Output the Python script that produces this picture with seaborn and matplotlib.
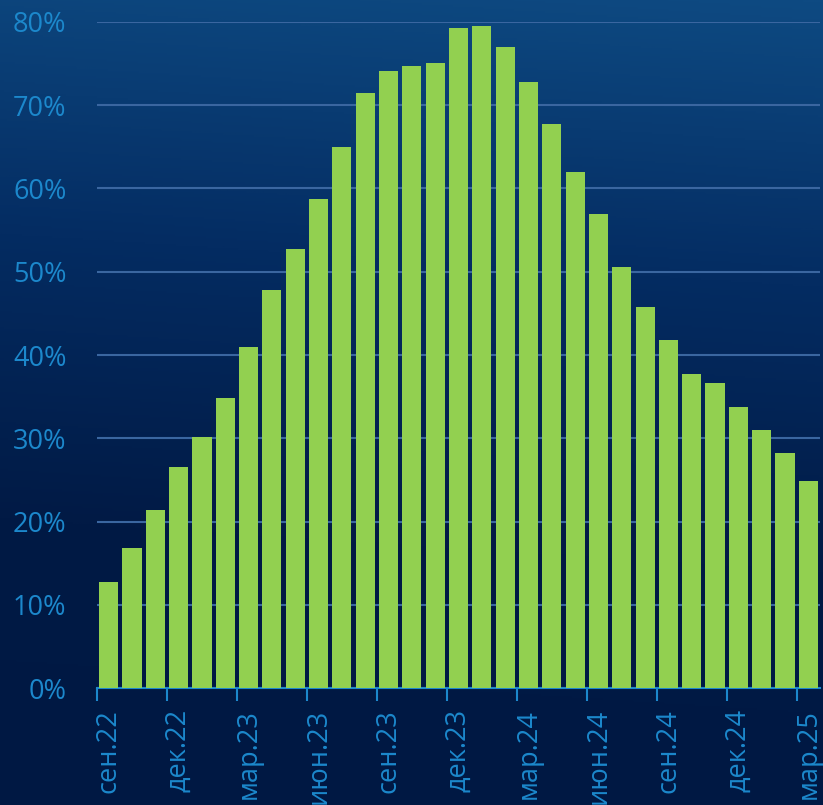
import numpy as np
import pandas as pd
import matplotlib
matplotlib.use("Agg")
import matplotlib.pyplot as plt
from matplotlib.colors import LinearSegmentedColormap
import seaborn as sns

months = ["сен.22", "окт.22", "ноя.22", "дек.22", "янв.23", "фев.23", "мар.23", "апр.23",
          "май.23", "июн.23", "июл.23", "авг.23", "сен.23", "окт.23", "ноя.23", "дек.23",
          "янв.24", "фев.24", "мар.24", "апр.24", "май.24", "июн.24", "июл.24", "авг.24",
          "сен.24", "окт.24", "ноя.24", "дек.24", "янв.25", "фев.25", "мар.25"]
values = [12.7, 16.8, 21.4, 26.5, 30.2, 34.8, 41.0, 47.8, 52.7, 58.7, 65.0, 71.5,
          74.1, 74.7, 75.1, 79.3, 79.5, 77.0, 72.8, 67.7, 62.0, 56.9, 50.6, 45.8,
          41.8, 37.7, 36.6, 33.8, 31.0, 28.2, 24.9]
yticks = [0, 10, 20, 30, 40, 50, 60, 70, 80]

sns.set_theme(style="white")
plt.rcParams['font.family'] = ['Open Sans', 'DejaVu Sans']

W, H = 823, 805
fig = plt.figure(figsize=(W / 100, H / 100), dpi=100)

# background gradient
bg = fig.add_axes([0, 0, 1, 1], zorder=-10)
cmap = LinearSegmentedColormap.from_list("bg", ["#0e4a82", "#042c62", "#011a45", "#001843"])
yy = np.linspace(1, 0, 400)[:, None]
xx = np.linspace(0, 1, 400)[None, :]
grad = 0.75 * (1 - yy) + 0.1 * (1 - xx) * 0.5
bg.imshow(grad, aspect="auto", cmap=cmap, extent=[0, 1, 0, 1], vmin=0, vmax=0.8)
bg.set_axis_off()

label_color = "#1c88cc"
ax = fig.add_axes([97 / W, 1 - 688 / H, (820 - 97) / W, (688 - 22) / H])
ax.patch.set_alpha(0)

df = pd.DataFrame({"month": months, "value": values})
sns.barplot(data=df, x="month", y="value", color="#92d050", saturation=1,
            width=0.82, ax=ax, zorder=3, linewidth=0, edgecolor="none")

ax.set_xlim(-0.5, len(months) - 0.5)
ax.set_ylim(0, 80)
ax.set_yticks(yticks)
ax.set_yticklabels([f"{v}%" for v in yticks])
ax.yaxis.grid(True, color="#3a66a0", linewidth=1.5, zorder=0)
ax.xaxis.grid(False)
ax.tick_params(axis="y", length=0, pad=22, labelsize=19.5, labelcolor=label_color)

idx = list(range(0, len(months), 3))
ax.set_xticks([i - 0.5 for i in idx])
ax.set_xticklabels([])
ax.set_xticks(idx, minor=True)
ax.set_xticklabels([months[i] for i in idx], minor=True, rotation=90)
ax.tick_params(axis="x", which="major", bottom=True, length=9, width=1.5,
               color=label_color, direction="out")
ax.tick_params(axis="x", which="minor", bottom=True, length=0, pad=15,
               labelsize=19.5, labelcolor=label_color)
for lab in ax.get_xticklabels(minor=True):
    lab.set_va("top")

for s in ["top", "right", "left"]:
    ax.spines[s].set_visible(False)
ax.spines["bottom"].set_color(label_color)
ax.spines["bottom"].set_linewidth(1.5)
ax.set_xlabel("")
ax.set_ylabel("")

fig.savefig("out.png", dpi=100)
